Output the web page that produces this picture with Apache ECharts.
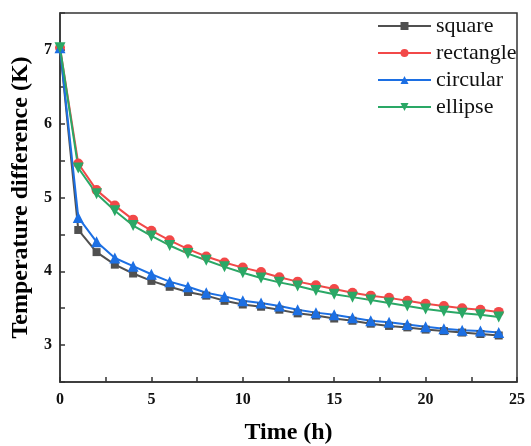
<!DOCTYPE html>
<html>
<head>
<meta charset="utf-8">
<script src="https://cdn.jsdelivr.net/npm/echarts@6/dist/echarts.min.js"></script>
<style>html,body{margin:0;padding:0;background:#fff;}#c{width:531px;height:446px;}</style>
</head>
<body>
<div id="c"></div>
<script>
const hours = [0,1,2,3,4,5,6,7,8,9,10,11,12,13,14,15,16,17,18,19,20,21,22,23,24];
const square = [7.03,4.56,4.26,4.09,3.97,3.87,3.79,3.72,3.67,3.60,3.55,3.52,3.48,3.43,3.40,3.36,3.33,3.29,3.26,3.24,3.21,3.19,3.17,3.15,3.13];
const rectangle = [7.03,5.46,5.10,4.89,4.70,4.55,4.42,4.30,4.20,4.12,4.05,3.99,3.92,3.86,3.81,3.76,3.71,3.67,3.64,3.60,3.56,3.53,3.50,3.48,3.45];
const circular = [7.03,4.73,4.40,4.18,4.07,3.96,3.86,3.79,3.71,3.66,3.60,3.57,3.53,3.48,3.44,3.41,3.37,3.33,3.31,3.28,3.25,3.22,3.20,3.19,3.17];
const ellipse = [7.03,5.40,5.05,4.82,4.62,4.48,4.35,4.24,4.15,4.06,3.98,3.91,3.85,3.80,3.74,3.69,3.65,3.61,3.57,3.53,3.49,3.46,3.43,3.41,3.38];
const seriesNames = ['square','rectangle','circular','ellipse'];
const xTickLabels = ['0','5','10','15','20','25'];
const yTickLabels = ['3','4','5','6','7'];

const font = '"Liberation Serif","Times New Roman",serif';
function pair(arr){ return hours.map((h,i)=>[h,arr[i]]); }
function mk(name, data, color, symbol, size, rotate){
  return {
    name, type:'line', data: pair(data),
    symbol, symbolSize:size, symbolRotate: rotate||0,
    lineStyle:{color, width:2},
    itemStyle:{color},
    z: 3
  };
}
const chart = echarts.init(document.getElementById('c'));
chart.setOption({
  animation:false,
  backgroundColor:'#fff',
  grid:{left:60, right:14, top:13, bottom:64, outerBoundsMode:'none', containLabel:false,
        show:true, borderColor:'#333', borderWidth:1.5, backgroundColor:'transparent'},
  legend:{
    orient:'vertical', left:372, top:10,
    itemWidth:53, itemHeight:10, itemGap:5,
    textStyle:{fontFamily:font, fontSize:22, color:'#111'},
    data: seriesNames
  },
  xAxis:{
    type:'value', min:0, max:25, interval:2.5,
    name:'Time (h)', nameLocation:'middle', nameGap:39,
    nameTextStyle:{fontFamily:font, fontSize:24, fontWeight:'bold', color:'#000'},
    axisLine:{show:true, lineStyle:{color:'#333', width:1.5}},
    axisTick:{inside:true, length:5, lineStyle:{color:'#333', width:1.5}},
    axisLabel:{fontFamily:font, fontSize:16, fontWeight:'bold', color:'#111', margin:10,
      formatter:v=>{ const s=String(v); return xTickLabels.indexOf(s)>=0 ? s : ''; }},
    splitLine:{show:false}
  },
  yAxis:{
    type:'value', min:2.5, max:7.5, interval:0.5,
    name:'Temperature difference (K)', nameLocation:'middle', nameGap:23,
    nameTextStyle:{fontFamily:font, fontSize:24, fontWeight:'bold', color:'#000'},
    axisLine:{show:true, lineStyle:{color:'#333', width:1.5}},
    axisTick:{inside:true, length:5, lineStyle:{color:'#333', width:1.5}},
    axisLabel:{fontFamily:font, fontSize:16, fontWeight:'bold', color:'#111', margin:8,
      formatter:v=>{ const s=String(v); return yTickLabels.indexOf(s)>=0 ? s : ''; }},
    splitLine:{show:false}
  },
  series:[
    mk('square', square, '#505050', 'rect', 8),
    mk('rectangle', rectangle, '#f24848', 'circle', 10),
    mk('circular', circular, '#1c6fe3', 'triangle', 11),
    mk('ellipse', ellipse, '#2aa866', 'triangle', 11, 180)
  ]
});
</script>
</body>
</html>
